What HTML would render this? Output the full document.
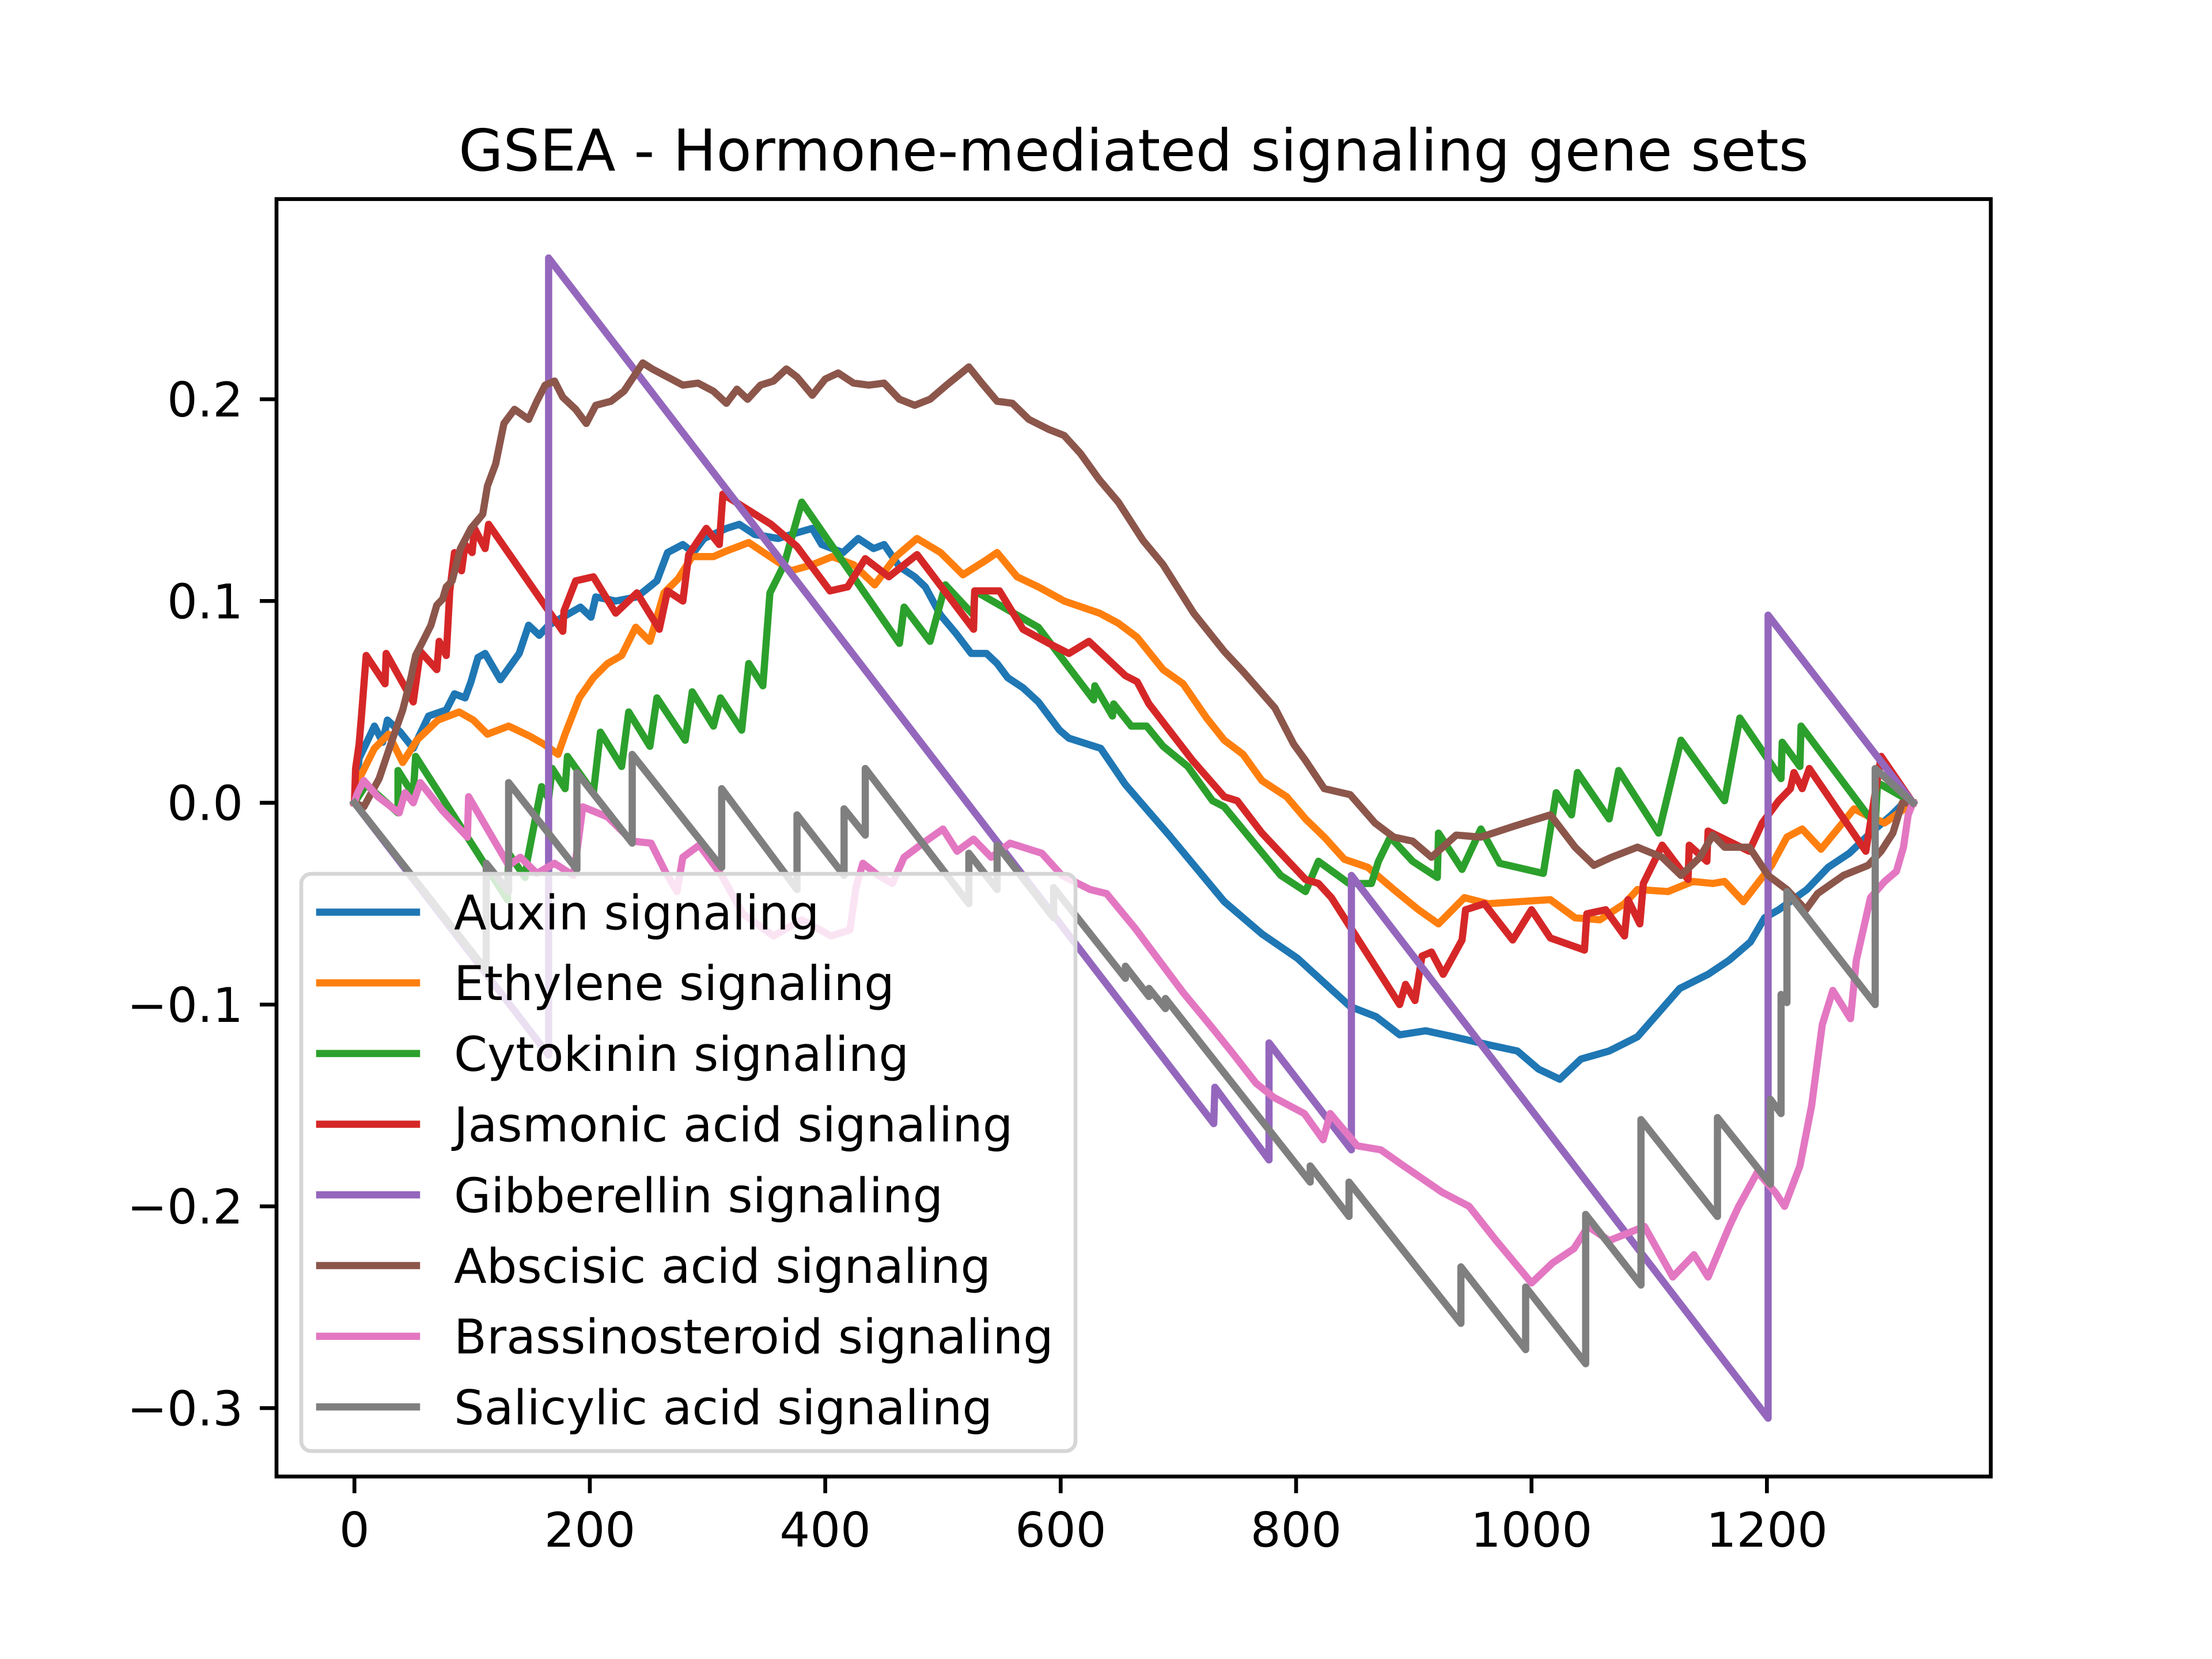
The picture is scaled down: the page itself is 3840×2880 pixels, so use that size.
<!DOCTYPE html>
<html><head><meta charset="utf-8"><style>
html,body{margin:0;padding:0;background:#fff}
svg{display:block}
text{font-family:"DejaVu Sans","Liberation Sans",sans-serif;fill:#000}
</style></head><body>
<svg id="chart" width="3840" height="2880" viewBox="0 0 3840 2880" xmlns="http://www.w3.org/2000/svg">
<rect x="0" y="0" width="3840" height="2880" fill="#fff"/>
<text x="1968" y="296" font-size="100" text-anchor="middle">GSEA - Hormone-mediated signaling gene sets</text>
<g id="series"></g>
<rect x="480" y="345.6" width="2976" height="2217.6" fill="none" stroke="#000" stroke-width="6.67"/>
<g id="ticks"></g>
<g id="legend"></g>
</svg>
<script>
const xTicks = [0,200,400,600,800,1000,1200];
const yTicks = [-0.3,-0.2,-0.1,0.0,0.1,0.2];
const yTickLabels = ["\u22120.3","\u22120.2","\u22120.1","0.0","0.1","0.2"];
const seriesNames = ["Auxin signaling","Ethylene signaling","Cytokinin signaling","Jasmonic acid signaling","Gibberellin signaling","Abscisic acid signaling","Brassinosteroid signaling","Salicylic acid signaling"];
const seriesColors = ["#1f77b4","#ff7f0e","#2ca02c","#d62728","#9467bd","#8c564b","#e377c2","#7f7f7f"];

const auxinX = [0,4,17,24,28,39,50,63,78,85,94,99,105,111,124,140,148,157,165,192,201,205,222,240,257,266,279,288,297,316,327,340,360,377,389,397,415,428,441,450,463,476,485,498,511,524,537,546,555,568,581,599,607,634,655,692,739,771,801,846,868,888,910,934,964,988,1006,1024,1042,1066,1090,1108,1126,1150,1168,1186,1198,1210,1234,1252,1270,1288,1306,1318,1324];
const auxinY = [0,0.022,0.038,0.030,0.041,0.035,0.027,0.043,0.046,0.054,0.052,0.060,0.072,0.074,0.061,0.074,0.088,0.083,0.088,0.097,0.092,0.102,0.100,0.102,0.110,0.124,0.128,0.124,0.131,0.136,0.138,0.133,0.131,0.134,0.136,0.128,0.124,0.131,0.126,0.128,0.117,0.112,0.107,0.093,0.084,0.074,0.074,0.069,0.062,0.057,0.050,0.036,0.032,0.027,0.009,-0.016,-0.049,-0.065,-0.077,-0.101,-0.106,-0.115,-0.113,-0.116,-0.120,-0.123,-0.132,-0.137,-0.127,-0.123,-0.116,-0.104,-0.092,-0.085,-0.078,-0.069,-0.057,-0.053,-0.043,-0.032,-0.025,-0.015,-0.006,0.001,0];

const ethyleneX = [0,5,17,29,41,53,71,89,101,113,131,149,161,173,179,191,203,215,227,239,251,263,275,287,305,317,335,353,371,389,406,424,442,460,478,498,517,536,546,563,581,603,633,649,665,687,704,724,739,755,771,792,808,824,841,861,883,904,921,943,963,989,1016,1037,1058,1079,1090,1116,1137,1154,1164,1180,1204,1217,1230,1246,1260,1274,1284,1300,1324];
const ethyleneY = [0,0.013,0.027,0.034,0.020,0.031,0.041,0.045,0.041,0.034,0.038,0.033,0.029,0.024,0.034,0.052,0.062,0.069,0.073,0.087,0.080,0.104,0.111,0.122,0.122,0.125,0.129,0.122,0.115,0.118,0.122,0.118,0.108,0.122,0.131,0.124,0.113,0.120,0.124,0.112,0.107,0.100,0.094,0.089,0.082,0.066,0.059,0.042,0.031,0.024,0.011,0.003,-0.008,-0.017,-0.028,-0.032,-0.043,-0.053,-0.060,-0.047,-0.050,-0.049,-0.048,-0.057,-0.058,-0.050,-0.043,-0.044,-0.039,-0.040,-0.039,-0.049,-0.031,-0.017,-0.013,-0.023,-0.013,-0.003,-0.006,-0.010,0];

const cytokininX = [0,10,37,37,50,52,96,130,131,145,147,159,165,168,179,181,203,209,227,233,251,257,281,287,305,311,329,335,347,353,365,380,463,467,489,502,526,527,581,628,629,644,645,660,673,687,708,729,739,787,808,819,845,864,870,880,899,920,921,941,957,973,1010,1021,1034,1039,1066,1074,1108,1127,1164,1177,1212,1213,1228,1229,1292,1294,1324];
const cytokininY = [0,0.009,-0.005,0.016,0.004,0.023,-0.017,-0.048,-0.025,-0.037,-0.028,0.008,0.002,0.017,0.007,0.023,0.005,0.035,0.018,0.045,0.028,0.052,0.031,0.055,0.038,0.052,0.036,0.069,0.058,0.104,0.118,0.149,0.079,0.097,0.080,0.108,0.093,0.105,0.087,0.051,0.058,0.043,0.049,0.038,0.038,0.028,0.018,0.001,-0.002,-0.036,-0.044,-0.029,-0.040,-0.040,-0.029,-0.017,-0.029,-0.037,-0.015,-0.033,-0.013,-0.030,-0.035,0.005,-0.006,0.015,-0.008,0.016,-0.015,0.031,0.001,0.042,0.012,0.030,0.018,0.038,-0.011,0.010,0];

const jasmonicX = [0,1,4,6,10,26,27,50,56,70,72,78,81,85,91,94,100,102,111,114,177,178,188,203,222,240,259,266,279,284,299,310,313,354,376,404,419,434,454,478,526,527,548,568,590,607,624,655,665,675,712,739,750,771,808,819,830,888,893,901,907,915,925,941,944,960,984,1000,1016,1045,1047,1063,1079,1082,1092,1095,1111,1133,1134,1149,1150,1185,1196,1210,1220,1223,1230,1236,1284,1297,1324];
const jasmonicY = [0,0.017,0.029,0.043,0.073,0.059,0.074,0.050,0.075,0.066,0.080,0.073,0.105,0.124,0.115,0.128,0.124,0.136,0.126,0.138,0.085,0.095,0.110,0.112,0.094,0.104,0.086,0.105,0.100,0.123,0.136,0.128,0.153,0.138,0.127,0.105,0.107,0.121,0.112,0.123,0.086,0.105,0.105,0.086,0.079,0.074,0.080,0.063,0.060,0.049,0.021,0.003,0.001,-0.015,-0.038,-0.040,-0.047,-0.100,-0.090,-0.098,-0.076,-0.074,-0.085,-0.068,-0.053,-0.050,-0.068,-0.053,-0.067,-0.073,-0.055,-0.053,-0.066,-0.048,-0.060,-0.040,-0.021,-0.038,-0.021,-0.029,-0.014,-0.024,-0.010,0.001,0.007,0.015,0.007,0.017,-0.024,0.023,0];

const gibberellinX = [0,165,165,730,731,777,777,847,847,1201,1201,1324];
const gibberellinY = [0,-0.125,0.270,-0.159,-0.141,-0.177,-0.119,-0.172,-0.036,-0.305,0.093,0];

const abscisicX = [0,8,21,32,41,48,52,59,65,70,75,78,83,90,99,109,113,120,127,136,148,155,162,170,177,188,197,205,218,229,245,253,266,279,292,305,316,325,334,345,356,367,376,389,400,411,424,437,450,463,476,489,503,522,533,546,559,573,590,603,617,633,649,670,687,713,739,755,782,798,808,824,846,867,883,899,915,936,957,983,1005,1016,1037,1053,1068,1090,1111,1127,1143,1154,1164,1185,1201,1217,1233,1243,1265,1286,1297,1307,1315,1324];
const abscisicY = [0,-0.002,0.012,0.031,0.046,0.062,0.073,0.081,0.088,0.098,0.101,0.107,0.110,0.126,0.136,0.143,0.157,0.168,0.188,0.195,0.190,0.199,0.207,0.209,0.201,0.195,0.188,0.197,0.199,0.204,0.218,0.215,0.211,0.207,0.208,0.204,0.198,0.205,0.200,0.207,0.209,0.215,0.211,0.202,0.210,0.213,0.208,0.207,0.208,0.200,0.197,0.200,0.207,0.216,0.208,0.199,0.198,0.190,0.185,0.182,0.173,0.160,0.149,0.130,0.118,0.094,0.075,0.065,0.047,0.029,0.021,0.007,0.004,-0.010,-0.017,-0.019,-0.027,-0.016,-0.017,-0.012,-0.008,-0.006,-0.022,-0.031,-0.027,-0.022,-0.027,-0.036,-0.027,-0.016,-0.022,-0.022,-0.036,-0.043,-0.053,-0.045,-0.036,-0.031,-0.024,-0.015,0.000,0];

const brassinoX = [0,2,8,20,38,43,50,56,75,96,97,131,141,155,170,186,190,194,215,236,252,264,274,279,293,312,330,356,380,405,421,426,432,445,457,467,483,500,512,526,541,557,584,601,625,639,663,704,728,746,766,781,807,823,829,852,872,889,924,947,970,1000,1018,1036,1048,1066,1096,1120,1138,1150,1168,1176,1192,1207,1215,1228,1238,1247,1256,1271,1276,1288,1300,1310,1316,1320,1324];
const brassinoY = [0,0.004,0.011,0.003,-0.005,0.005,0.0,0.010,-0.004,-0.017,0.003,-0.031,-0.027,-0.035,-0.030,-0.036,-0.020,-0.002,-0.007,-0.019,-0.020,-0.034,-0.044,-0.027,-0.021,-0.036,-0.055,-0.066,-0.058,-0.066,-0.063,-0.042,-0.030,-0.036,-0.040,-0.027,-0.020,-0.013,-0.024,-0.018,-0.027,-0.020,-0.025,-0.036,-0.043,-0.045,-0.062,-0.094,-0.111,-0.124,-0.139,-0.146,-0.154,-0.167,-0.154,-0.170,-0.172,-0.179,-0.193,-0.200,-0.217,-0.238,-0.228,-0.221,-0.210,-0.217,-0.210,-0.235,-0.224,-0.235,-0.210,-0.200,-0.183,-0.193,-0.200,-0.180,-0.150,-0.110,-0.093,-0.107,-0.078,-0.047,-0.039,-0.034,-0.022,-0.006,0];

const salicylicX = [0,112,112,131,131,189,189,236,236,312,312,376,376,416,416,434,434,522,522,546,546,594,594,655,655,675,675,689,689,812,812,845,845,940,940,995,995,1046,1046,1093,1093,1158,1158,1203,1203,1212,1212,1217,1217,1292,1292,1324];
const salicylicY = [0,-0.083,-0.030,-0.044,0.010,-0.033,0.015,-0.020,0.024,-0.032,0.007,-0.043,-0.006,-0.036,-0.003,-0.016,0.017,-0.050,-0.025,-0.043,-0.021,-0.057,-0.042,-0.087,-0.081,-0.096,-0.092,-0.102,-0.097,-0.188,-0.180,-0.205,-0.188,-0.258,-0.230,-0.271,-0.240,-0.278,-0.204,-0.239,-0.157,-0.205,-0.156,-0.189,-0.147,-0.154,-0.095,-0.099,-0.044,-0.100,0.017,0];

const allX = [auxinX,ethyleneX,cytokininX,jasmonicX,gibberellinX,abscisicX,brassinoX,salicylicX];
const allY = [auxinY,ethyleneY,cytokininY,jasmonicY,gibberellinY,abscisicY,brassinoY,salicylicY];
const seriesKeys = ["auxin","ethylene","cytokinin","jasmonic-acid","gibberellin","abscisic-acid","brassinosteroid","salicylic-acid"];

const AX = {l:480, r:3456, t:345.6, b:2563.2};
const X0 = -66.2, X1 = 1390.2, Y0 = -0.3339, Y1 = 0.2992;
function xs(v){ return AX.l + (v - X0) / (X1 - X0) * (AX.r - AX.l); }
function ys(v){ return AX.b - (v - Y0) / (Y1 - Y0) * (AX.b - AX.t); }
const NS = "http://www.w3.org/2000/svg";

const gS = document.getElementById('series');
for (let s = 0; s < allX.length; s++) {
  const xa = allX[s], ya = allY[s];
  const n = Math.min(xa.length, ya.length);
  let d = "";
  for (let i = 0; i < n; i++) d += (i ? "L" : "M") + xs(xa[i]).toFixed(1) + " " + ys(ya[i]).toFixed(1);
  const p = document.createElementNS(NS, 'path');
  p.setAttribute('d', d);
  p.setAttribute('fill', 'none');
  p.setAttribute('stroke', seriesColors[s]);
  p.setAttribute('stroke-width', '12.5');
  p.setAttribute('stroke-linejoin', 'round');
  p.setAttribute('stroke-linecap', 'square');
  
  
  gS.appendChild(p);
}

const gT = document.getElementById('ticks');
for (let i = 0; i < xTicks.length; i++) {
  const x = xs(xTicks[i]);
  const l = document.createElementNS(NS, 'line');
  l.setAttribute('x1', x); l.setAttribute('x2', x);
  l.setAttribute('y1', AX.b); l.setAttribute('y2', AX.b + 29);
  l.setAttribute('stroke', '#000'); l.setAttribute('stroke-width', '6.67');
  
  
  gT.appendChild(l);
  const t = document.createElementNS(NS, 'text');
  t.setAttribute('x', x); t.setAttribute('y', AX.b + 58 + 64);
  t.setAttribute('font-size', '83'); t.setAttribute('text-anchor', 'middle');
  t.textContent = String(xTicks[i]);
  
  
  gT.appendChild(t);
}
for (let i = 0; i < yTicks.length; i++) {
  const y = ys(yTicks[i]);
  const l = document.createElementNS(NS, 'line');
  l.setAttribute('x1', AX.l - 29); l.setAttribute('x2', AX.l);
  l.setAttribute('y1', y); l.setAttribute('y2', y);
  l.setAttribute('stroke', '#000'); l.setAttribute('stroke-width', '6.67');
  
  
  gT.appendChild(l);
  const t = document.createElementNS(NS, 'text');
  t.setAttribute('x', AX.l - 58); t.setAttribute('y', y + 30);
  t.setAttribute('font-size', '83'); t.setAttribute('text-anchor', 'end');
  t.textContent = yTickLabels[i];
  
  
  gT.appendChild(t);
}

const gL = document.getElementById('legend');
const box = document.createElementNS(NS, 'rect');
box.setAttribute('x', 523); box.setAttribute('y', 1517);
box.setAttribute('width', 1344); box.setAttribute('height', 1002);
box.setAttribute('rx', 17); box.setAttribute('ry', 17);
box.setAttribute('fill', 'rgba(255,255,255,0.8)');
box.setAttribute('stroke', '#d6d6d6'); box.setAttribute('stroke-width', '6.67');


gL.appendChild(box);
for (let i = 0; i < seriesNames.length; i++) {
  const y = 1583.5 + i * 122.7;
  const l = document.createElementNS(NS, 'line');
  l.setAttribute('x1', 555); l.setAttribute('x2', 723);
  l.setAttribute('y1', y); l.setAttribute('y2', y);
  l.setAttribute('stroke', seriesColors[i]); l.setAttribute('stroke-width', '12.5');
  l.setAttribute('stroke-linecap', 'square');
  
  
  gL.appendChild(l);
  const t = document.createElementNS(NS, 'text');
  t.setAttribute('x', 788); t.setAttribute('y', y + 30);
  t.setAttribute('font-size', '83');
  t.textContent = seriesNames[i];
  
  
  gL.appendChild(t);
}
</script>
</body></html>
